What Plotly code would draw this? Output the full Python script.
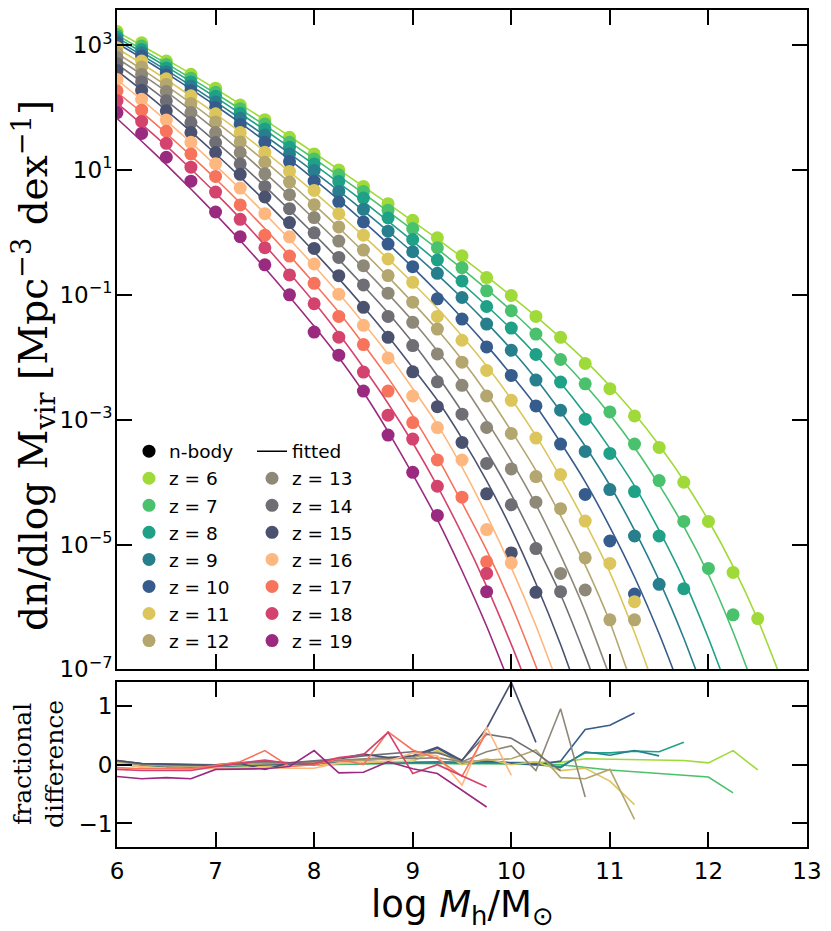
import plotly.graph_objects as go

# ---------------- data (log10 of dn/dlogM) ----------------
log_mass = [6.0, 6.25, 6.5, 6.75, 7.0, 7.25, 7.5, 7.75, 8.0, 8.25, 8.5, 8.75, 9.0, 9.25,
            9.5, 9.75, 10.0, 10.25, 10.5, 10.75, 11.0, 11.25, 11.5, 11.75, 12.0, 12.25,
            12.5, 12.75]
redshifts = [6, 7, 8, 9, 10, 11, 12, 13, 14, 15, 16, 17, 18, 19]
colors = ["#a0da39", "#4ac16d", "#1fa187", "#277f8e", "#365c8d", "#dcc65c", "#b3a66f",
          "#8e8879", "#6e6e74", "#4b5270", "#feb77e", "#f7735c", "#d4436e", "#9a2a80"]

nbody_z6 = [3.22, 3.037, 2.745, 2.532, 2.31, 2.04, 1.805, 1.523, 1.257, 1.0, 0.737, 0.46, 0.195, -0.087, -0.374, -0.724, -1.011, -1.346, -1.68, -2.1, -2.504, -2.94, -3.444, -4.002, -4.63, -5.446, -6.186]
nbody_z7 = [3.17, 2.984, 2.69, 2.47, 2.245, 1.98, 1.735, 1.443, 1.177, 0.922, 0.657, 0.355, 0.061, -0.246, -0.565, -0.936, -1.255, -1.628, -2.036, -2.425, -2.876, -3.391, -3.975, -4.63, -5.382, -6.126]
nbody_z8 = [3.13, 2.93, 2.635, 2.41, 2.18, 1.91, 1.655, 1.363, 1.097, 0.816, 0.55, 0.232, -0.114, -0.442, -0.777, -1.187, -1.532, -1.956, -2.398, -2.992, -3.54, -4.151, -4.863, -5.708]
nbody_z9 = [3.085, 2.877, 2.575, 2.345, 2.09, 1.83, 1.559, 1.257, 0.992, 0.657, 0.37, 0.02, -0.31, -0.656, -1.043, -1.468, -1.888, -2.366, -2.849, -3.508, -4.119, -4.863, -5.638]
nbody_z10 = [3.037, 2.825, 2.52, 2.27, 2.0, 1.73, 1.443, 1.135, 0.82, 0.487, 0.168, -0.187, -0.549, -1.064, -1.389, -1.835, -2.291, -2.78, -3.391, -4.198, -4.943, -5.792]
nbody_z11 = [2.957, 2.745, 2.46, 2.187, 1.90, 1.60, 1.284, 0.976, 0.673, 0.30, -0.044, -0.426, -0.799, -1.346, -1.728, -2.211, -2.69, -3.295, -3.88, -4.624, -5.303, -5.915]
nbody_z12 = [2.877, 2.649, 2.37, 2.064, 1.77, 1.45, 1.124, 0.806, 0.444, 0.088, -0.283, -0.692, -1.118, -1.548, -2.079, -2.621, -3.221, -3.912, -4.426, -5.213, -6.206, -6.206]
nbody_z13 = [2.798, 2.531, 2.256, 1.92, 1.60, 1.28, 0.938, 0.603, 0.237, -0.139, -0.533, -0.974, -1.441, -1.947, -2.45, -3.125, -3.789, -4.321, -5.462, -5.728]
nbody_z14 = [2.70, 2.415, 2.107, 1.76, 1.44, 1.10, 0.737, 0.38, -0.007, -0.401, -0.841, -1.346, -1.813, -2.393, -2.912, -3.70, -4.363, -5.064, -5.755]
nbody_z15 = [2.595, 2.276, 1.948, 1.60, 1.28, 0.93, 0.567, 0.157, -0.257, -0.693, -1.2, -1.68, -2.233, -2.791, -3.364, -4.187, -5.134, -5.765]
nbody_z16 = [2.45, 2.133, 1.80, 1.443, 1.10, 0.71, 0.30, -0.071, -0.506, -0.99, -1.489, -2.01, -2.621, -3.126, -3.646, -4.761, -5.293]
nbody_z17 = [2.267, 1.958, 1.62, 1.257, 0.897, 0.44, -0.044, -0.379, -0.815, -1.346, -1.797, -2.541, -3.046, -3.646, -4.241, -5.277]
nbody_z18 = [2.107, 1.778, 1.427, 1.045, 0.646, 0.21, -0.246, -0.681, -1.143, -1.679, -2.238, -2.928, -3.311, -4.066, None, -5.462]
nbody_z19 = [1.92, 1.586, 1.204, 0.82, 0.327, -0.07, -0.52, -1.0, -1.596, -1.967, -2.541, -3.247, -3.843, -4.533, None, -5.755]

fit_z6 = [3.215, 2.995, 2.77, 2.54, 2.30, 2.055, 1.80, 1.54, 1.275, 1.005, 0.735, 0.46, 0.18, -0.105, -0.40, -0.705, -1.02, -1.345, -1.69, -2.055, -2.46, -2.905, -3.41, -3.975, -4.615, -5.35, -6.2, -7.2]
fit_z7 = [3.16, 2.935, 2.705, 2.47, 2.225, 1.975, 1.715, 1.45, 1.18, 0.905, 0.625, 0.335, 0.04, -0.265, -0.58, -0.91, -1.255, -1.625, -2.02, -2.445, -2.915, -3.445, -4.045, -4.71, -5.48, -6.4, -7.45]
fit_z8 = [3.12, 2.89, 2.655, 2.415, 2.165, 1.905, 1.64, 1.365, 1.085, 0.795, 0.495, 0.18, -0.14, -0.47, -0.815, -1.175, -1.55, -1.96, -2.41, -2.91, -3.46, -4.06, -4.775, -5.565, -6.5, -7.55]
fit_z9 = [3.075, 2.84, 2.6, 2.35, 2.09, 1.825, 1.55, 1.265, 0.97, 0.665, 0.35, 0.02, -0.32, -0.675, -1.05, -1.45, -1.875, -2.345, -2.87, -3.425, -4.05, -4.77, -5.575, -6.5, -7.55]
fit_z10 = [3.03, 2.795, 2.55, 2.295, 2.03, 1.755, 1.465, 1.165, 0.85, 0.52, 0.175, -0.185, -0.56, -0.955, -1.37, -1.81, -2.28, -2.78, -3.365, -3.995, -4.72, -5.52, -6.43, -7.45]
fit_z11 = [2.95, 2.705, 2.45, 2.18, 1.9, 1.605, 1.295, 0.975, 0.645, 0.3, -0.055, -0.425, -0.81, -1.215, -1.66, -2.14, -2.67, -3.26, -3.925, -4.65, -5.445, -6.41, -7.5]
fit_z12 = [2.87, 2.615, 2.35, 2.07, 1.775, 1.465, 1.14, 0.8, 0.445, 0.075, -0.31, -0.71, -1.125, -1.56, -2.04, -2.58, -3.18, -3.815, -4.535, -5.33, -6.24, -7.36]
fit_z13 = [2.79, 2.53, 2.255, 1.955, 1.64, 1.305, 0.955, 0.59, 0.215, -0.17, -0.57, -0.985, -1.42, -1.9, -2.42, -3.02, -3.66, -4.36, -5.17, -6.07, -7.12]
fit_z14 = [2.695, 2.41, 2.11, 1.79, 1.455, 1.105, 0.74, 0.36, -0.03, -0.435, -0.855, -1.29, -1.765, -2.295, -2.87, -3.51, -4.2, -4.985, -5.8, -6.78, -7.85]
fit_z15 = [2.59, 2.28, 1.955, 1.615, 1.26, 0.89, 0.505, 0.105, -0.31, -0.74, -1.19, -1.665, -2.17, -2.69, -3.3, -3.98, -4.75, -5.625, -6.6, -7.7]
fit_z16 = [2.445, 2.125, 1.79, 1.44, 1.075, 0.695, 0.3, -0.11, -0.535, -0.98, -1.45, -1.95, -2.5, -3.08, -3.76, -4.53, -5.37, -6.3, -7.35]
fit_z17 = [2.245, 1.925, 1.585, 1.23, 0.86, 0.47, 0.06, -0.37, -0.815, -1.28, -1.79, -2.33, -2.935, -3.6, -4.33, -5.09, -5.96, -6.95, -8.0]
fit_z18 = [2.07, 1.735, 1.385, 1.015, 0.63, 0.225, -0.205, -0.655, -1.12, -1.625, -2.165, -2.74, -3.37, -4.065, -4.83, -5.67, -6.6, -7.6]
fit_z19 = [1.825, 1.46, 1.085, 0.695, 0.29, -0.13, -0.57, -1.03, -1.505, -2.005, -2.56, -3.19, -3.875, -4.6, -5.42, -6.31, -7.3]

frac_z6 = [0.0, -0.02, -0.03, -0.03, -0.02, -0.01, 0.0, 0.0, 0.01, 0.02, 0.03, 0.04, 0.04, 0.04, 0.03, 0.04, 0.03, 0.03, 0.04, 0.10, 0.09, 0.08, 0.07, 0.07, 0.03, 0.24, -0.09]
frac_z7 = [0.02, -0.04, -0.05, -0.05, -0.04, -0.03, -0.02, -0.01, 0.0, 0.01, 0.01, 0.02, 0.02, 0.02, 0.02, 0.01, 0.01, 0.01, 0.0, -0.05, -0.09, -0.12, -0.15, -0.17, -0.21, -0.48]
frac_z8 = [0.03, -0.02, -0.04, -0.04, -0.03, -0.02, -0.01, 0.0, 0.0, 0.01, 0.02, 0.02, 0.03, 0.03, 0.02, 0.03, 0.02, 0.0, -0.03, 0.2, 0.2, 0.23, 0.22, 0.38]
frac_z9 = [0.04, -0.01, -0.03, -0.03, -0.02, -0.01, 0.0, 0.01, 0.01, 0.02, 0.03, 0.03, 0.04, 0.05, 0.04, 0.05, 0.03, 0.02, -0.05, 0.22, 0.16, 0.24, 0.15]
frac_z10 = [0.04, 0.0, -0.02, -0.03, -0.02, -0.01, 0.0, 0.02, 0.03, 0.05, 0.08, 0.1, 0.12, 0.28, 0.05, 0.06, 0.03, 0.0, 0.06, 0.6, 0.67, 0.88]
frac_z11 = [0.03, -0.03, -0.06, -0.07, -0.06, -0.05, -0.03, -0.02, 0.0, 0.02, 0.04, 0.05, 0.06, 0.25, 0.0, 0.1, 0.0, 0.05, -0.1, -0.06, -0.28, -0.68]
frac_z12 = [0.05, 0.0, -0.02, -0.03, -0.02, 0.0, 0.02, 0.03, 0.04, 0.06, 0.08, 0.1, 0.12, 0.22, 0.04, 0.08, 0.1, 0.25, -0.22, -0.24, -0.08, -0.93]
frac_z13 = [0.06, 0.01, 0.0, -0.01, 0.0, 0.02, 0.04, 0.03, 0.05, 0.07, 0.1, 0.12, 0.1, 0.12, 0.05, 0.22, 0.32, -0.1, 0.95, -0.55]
frac_z14 = [0.07, 0.02, 0.01, 0.0, 0.0, 0.03, 0.06, 0.03, 0.06, 0.1, 0.15, 0.18, 0.22, 0.2, 0.08, 0.52, 0.45, 0.2, -0.1]
frac_z15 = [0.07, 0.02, 0.01, 0.0, -0.01, 0.02, -0.08, 0.03, 0.0, 0.1, 0.18, 0.12, 0.15, 0.3, 0.07, 0.62, 1.4, 0.38]
frac_z16 = [0.03, -0.04, -0.06, -0.07, -0.06, -0.05, -0.05, -0.06, -0.06, 0.03, 0.05, 0.06, 0.2, 0.15, -0.35, 0.64, -0.18]
frac_z17 = [-0.05, -0.07, -0.07, -0.07, -0.01, 0.05, 0.24, -0.03, 0.0, 0.1, 0.0, 0.56, 0.25, 0.1, -0.2, 0.55]
frac_z18 = [-0.08, -0.1, -0.1, -0.1, -0.03, 0.03, 0.08, 0.02, 0.02, 0.12, 0.17, 0.55, -0.15, 0.0, None, -0.38]
frac_z19 = [-0.2, -0.24, -0.22, -0.24, -0.08, -0.07, -0.07, -0.03, 0.24, -0.14, -0.13, 0.05, -0.07, -0.15, None, -0.72]

nbody = [nbody_z6, nbody_z7, nbody_z8, nbody_z9, nbody_z10, nbody_z11, nbody_z12,
         nbody_z13, nbody_z14, nbody_z15, nbody_z16, nbody_z17, nbody_z18, nbody_z19]
fits = [fit_z6, fit_z7, fit_z8, fit_z9, fit_z10, fit_z11, fit_z12,
        fit_z13, fit_z14, fit_z15, fit_z16, fit_z17, fit_z18, fit_z19]
fracs = [frac_z6, frac_z7, frac_z8, frac_z9, frac_z10, frac_z11, frac_z12,
         frac_z13, frac_z14, frac_z15, frac_z16, frac_z17, frac_z18, frac_z19]

y_tick_vals = [1e-7, 1e-5, 1e-3, 1e-1, 1e1, 1e3]
y_tick_text = ["10<sup>−7</sup>", "10<sup>−5</sup>", "10<sup>−3</sup>", "10<sup>−1</sup>",
               "10<sup>1</sup>", "10<sup>3</sup>"]
frac_tick_vals = [-1, 0, 1]
frac_tick_text = ["−1", "0", "1"]
x_tick_vals = [6, 7, 8, 9, 10, 11, 12, 13]

# ---------------- figure ----------------
def lin(vals):
    return [None if v is None else 10 ** v for v in vals]

fig = go.Figure()
for i, z in enumerate(redshifts):
    c = colors[i]
    f = fits[i]
    fig.add_trace(go.Scatter(x=log_mass[:len(f)], y=lin(f), mode="lines",
                             line=dict(color=c, width=1.6, shape="spline", smoothing=0.6),
                             showlegend=False, xaxis="x", yaxis="y", hoverinfo="skip"))
    p = nbody[i]
    fig.add_trace(go.Scatter(x=log_mass[:len(p)], y=lin(p), mode="markers",
                             marker=dict(color=c, size=13, line=dict(width=0)),
                             name=f"z = {z}", legend="legend" if z <= 12 else "legend2",
                             xaxis="x", yaxis="y"))
    fr = fracs[i]
    fig.add_trace(go.Scatter(x=log_mass[:len(fr)], y=fr, mode="lines", connectgaps=True,
                             line=dict(color=c, width=1.6), showlegend=False,
                             xaxis="x2", yaxis="y2"))

# legend header entries
fig.add_trace(go.Scatter(x=[None], y=[None], mode="markers", name="n-body",
                         marker=dict(color="black", size=13), legend="legend",
                         legendrank=1, xaxis="x", yaxis="y"))
fig.add_trace(go.Scatter(x=[None], y=[None], mode="lines", name="fitted",
                         line=dict(color="black", width=1.6), legend="legend2",
                         legendrank=1, xaxis="x", yaxis="y"))

axis_common = dict(showline=True, linecolor="black", linewidth=2, mirror="ticks",
                   ticks="inside", ticklen=15, tickwidth=2, tickcolor="black",
                   showgrid=False, zeroline=False,
                   tickfont=dict(family="DejaVu Sans", size=23, color="black"))

legend_common = dict(bgcolor="rgba(0,0,0,0)", borderwidth=0,
                     font=dict(family="DejaVu Sans", size=18.5, color="black"),
                     xanchor="left", yanchor="top", tracegroupgap=0,
                     traceorder="normal", itemsizing="trace")

fig.update_layout(
    width=823, height=923,
    margin=dict(l=109, r=24, t=0, b=84),
    plot_bgcolor="white", paper_bgcolor="white",
    showlegend=True,
    xaxis=dict(domain=[0, 1], range=[6, 13], anchor="y", tickvals=x_tick_vals,
               showticklabels=False, **axis_common),
    yaxis=dict(domain=[0.2122, 1], type="log", range=[-7, 3.5626], anchor="x",
               tickvals=y_tick_vals, ticktext=y_tick_text, ticklabelstandoff=-2,
               **axis_common),
    xaxis2=dict(domain=[0, 1], range=[6, 13], anchor="y2", tickvals=x_tick_vals,
                ticklabelstandoff=2, **axis_common),
    yaxis2=dict(domain=[0, 0.1967], range=[-1.4, 1.4], anchor="x2",
                tickvals=frac_tick_vals, ticktext=frac_tick_text, ticklabelstandoff=-2,
                **axis_common),
    legend=dict(x=0.0174, y=0.495, **legend_common),
    legend2=dict(x=0.1957, y=0.495, **legend_common),
    annotations=[
        dict(text="dn/dlog M<sub>vir</sub> [Mpc<sup>−3</sup> dex<sup>−1</sup>]",
             xref="paper", yref="paper", x=-0.1205, y=0.5757, textangle=-90,
             showarrow=False, xanchor="center", yanchor="middle",
             font=dict(family="DejaVu Serif", size=39, color="black")),
        dict(text="fractional<br>difference",
             xref="paper", yref="paper", x=-0.114, y=0.0995, textangle=-90,
             showarrow=False, xanchor="center", yanchor="middle",
             font=dict(family="DejaVu Serif", size=25, color="black")),
        dict(text="log <i>M</i><sub>h</sub>/M<sub>⊙</sub>",
             xref="paper", yref="paper", x=0.5, y=-0.072,
             showarrow=False, xanchor="center", yanchor="middle",
             font=dict(family="DejaVu Sans", size=37, color="black")),
    ],
)

fig.write_html("out.html")
